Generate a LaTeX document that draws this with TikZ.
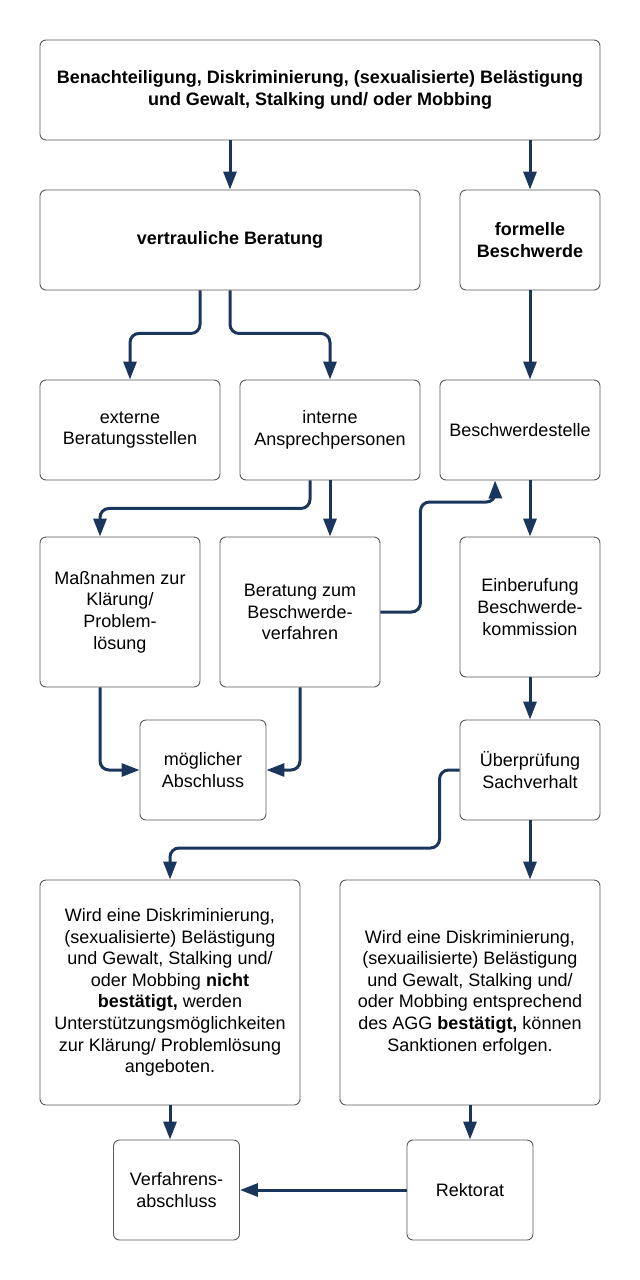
\documentclass[tikz,border=0pt]{standalone}
\usepackage{fontspec}
\setmainfont{Liberation Sans}
\usetikzlibrary{arrows.meta}
\definecolor{navy}{HTML}{1B365D}
\definecolor{boxgray}{HTML}{5A5A5A}
\begin{document}
\begin{tikzpicture}[x=1pt,y=-1pt,
  box/.style={draw=boxgray, line width=0.9pt, rounded corners=6pt, fill=white,
    inner sep=0pt, align=center, font=\fontsize{18}{21.6}\selectfont},
  conn/.style={draw=navy, line width=3pt, rounded corners=9pt,
    -{Triangle[length=18pt,width=13pt]}}]
\useasboundingbox (0,0) rectangle (640,1280);
\fill[white] (0,0) rectangle (640,1280);

\node[box, minimum width=560pt, minimum height=100pt] (top) at (320,90)
  {\bfseries Benachteiligung, Diskriminierung, (sexualisierte) Belästigung\\\bfseries und Gewalt, Stalking und/ oder Mobbing};
\node[box, minimum width=380pt, minimum height=100pt] (vert) at (230,240) {\bfseries vertrauliche Beratung};
\node[box, minimum width=140pt, minimum height=100pt] (form) at (530,240) {\bfseries formelle\\\bfseries Beschwerde};
\node[box, minimum width=180pt, minimum height=100pt] (ext) at (130,430) {externe\\Beratungsstellen};
\node[box, minimum width=180pt, minimum height=100pt] (int) at (330,430) {interne\\Ansprechpersonen};
\node[box, minimum width=160pt, minimum height=100pt] (bst) at (520,430) {Beschwerdestelle};
\node[box, minimum width=160pt, minimum height=150pt] (mass) at (120,612) {Maßnahmen zur\\Klärung/\\Problem-\\lösung};
\node[box, minimum width=160pt, minimum height=150pt] (ber) at (300,612) {Beratung zum\\Beschwerde-\\verfahren};
\node[box, minimum width=140pt, minimum height=140pt] (einb) at (530,607) {Einberufung\\Beschwerde-\\kommission};
\node[box, minimum width=126pt, minimum height=100pt] (mogl) at (203,770) {möglicher\\Abschluss};
\node[box, minimum width=140pt, minimum height=100pt] (uber) at (530,770) {Überprüfung\\Sachverhalt};
\node[box, minimum width=260pt, minimum height=225pt] (lbig) at (170,992.5)
  {Wird eine Diskriminierung,\\(sexualisierte) Belästigung\\und Gewalt, Stalking und/\\oder Mobbing \textbf{nicht}\\\textbf{bestätigt,} werden\\Unterstützungsmöglichkeiten\\zur Klärung/ Problemlösung\\angeboten.};
\node[box, minimum width=260pt, minimum height=225pt] (rbig) at (470,992.5)
  {Wird eine Diskriminierung,\\(sexuailisierte) Belästigung\\und Gewalt, Stalking und/\\oder Mobbing entsprechend\\des AGG \textbf{bestätigt,} können\\Sanktionen erfolgen.};
\node[box, minimum width=126pt, minimum height=100pt] (verf) at (176.5,1190) {Verfahrens-\\abschluss};
\node[box, minimum width=126pt, minimum height=100pt] (rekt) at (470,1190) {Rektorat};

\draw[conn] ([xshift=-90pt]top.south) -- (vert.north);
\draw[conn] ([xshift=210pt]top.south) -- (form.north);
\draw[conn] ([xshift=-30pt]vert.south) -- ++(0,43) -| (ext.north);
\draw[conn] (vert.south) -- ++(0,43) -| (int.north);
\draw[conn] (form.south) -- (form.south |- bst.north);
\draw[conn] ([xshift=-20pt]int.south) -- ++(0,28) -| ([xshift=-20pt]mass.north);
\draw[conn] (int.south) -- (int.south |- ber.north);
\draw[conn] (ber.east) -- ++(40,0) |- ++(75,-110) -- ([xshift=-25pt]bst.south);
\draw[conn] ([xshift=10pt]bst.south) -- (einb.north);
\draw[conn] (einb.south) -- (uber.north);
\draw[conn] ([xshift=-20pt]mass.south) |- (mogl.west);
\draw[conn] (ber.south) |- (mogl.east);
\draw[conn] (uber.west) -- ++(-20,0) -- ++(0,78) -| (lbig.north);
\draw[conn] ([xshift=60pt]uber.south) ++(-60pt,0) -- ([xshift=60pt]rbig.north);
\draw[conn] (lbig.south) -- (lbig.south |- verf.north);
\draw[conn] (rbig.south) -- (rekt.north);
\draw[conn] (rekt.west) -- (verf.east);
\end{tikzpicture}
\end{document}
